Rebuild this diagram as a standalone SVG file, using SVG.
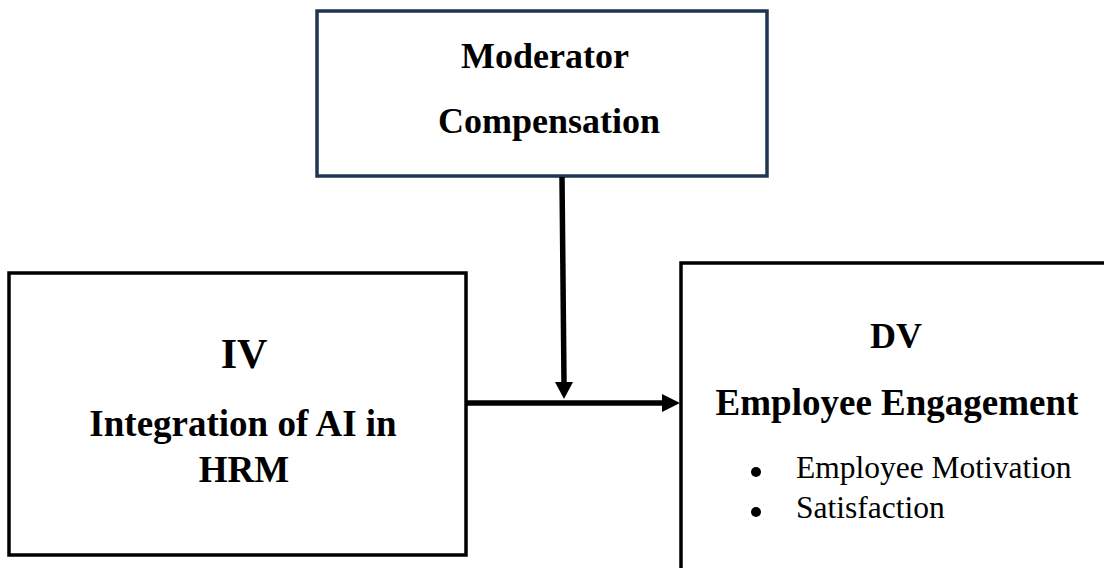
<svg xmlns="http://www.w3.org/2000/svg" width="1104" height="568" viewBox="0 0 1104 568">
<defs>
<style>
.box{fill:#fff;stroke:#000;stroke-width:3.5}
.mod{fill:#fff;stroke:#1f3550;stroke-width:3.5}
.b{font-family:"Liberation Serif","Times New Roman",serif;font-weight:bold;fill:#000;text-anchor:middle}
.r{font-family:"Liberation Serif","Times New Roman",serif;fill:#000}
.conn{stroke:#000;stroke-width:5.5;fill:none}
</style>
<marker id="ah" markerWidth="6" markerHeight="6" refX="0" refY="3" orient="auto" markerUnits="userSpaceOnUse" viewBox="0 0 6 6">
<path d="M0,0 L6,3 L0,6 z" fill="#000"/>
</marker>
</defs>
<rect width="1104" height="568" fill="#fff"/>
<g id="moderator">
<rect class="mod" x="317" y="11" width="450" height="165"/>
<text class="b" x="545" y="68" font-size="36">Moderator</text>
<text class="b" x="549" y="133" font-size="36">Compensation</text>
</g>
<g id="iv">
<rect class="box" x="9" y="273" width="457" height="282"/>
<text class="b" x="244" y="368" font-size="42">IV</text>
<text class="b" x="243" y="436" font-size="37">Integration of AI in</text>
<text class="b" x="244" y="482" font-size="37">HRM</text>
</g>
<g id="dv">
<path d="M681,575 L681,263 L1110,263" fill="none" stroke="#000" stroke-width="3.5"/>
<text class="b" x="896" y="348" font-size="36">DV</text>
<text class="b" x="897" y="415" font-size="37">Employee Engagement</text>
<circle cx="756" cy="472" r="5"/>
<circle cx="756" cy="512" r="5"/>
<text class="r" x="796" y="478" font-size="31.5">Employee Motivation</text>
<text class="r" x="796" y="518" font-size="31.5">Satisfaction</text>
</g>
<g id="connectors">
<line x1="466" y1="403" x2="662" y2="403" class="conn"/>
<path d="M662,394 L680,403 L662,412 z" fill="#000"/>
<line x1="562" y1="177" x2="564" y2="382" class="conn"/>
<path d="M555,382 L573,382 L564,399 z" fill="#000"/>
</g>
</svg>
